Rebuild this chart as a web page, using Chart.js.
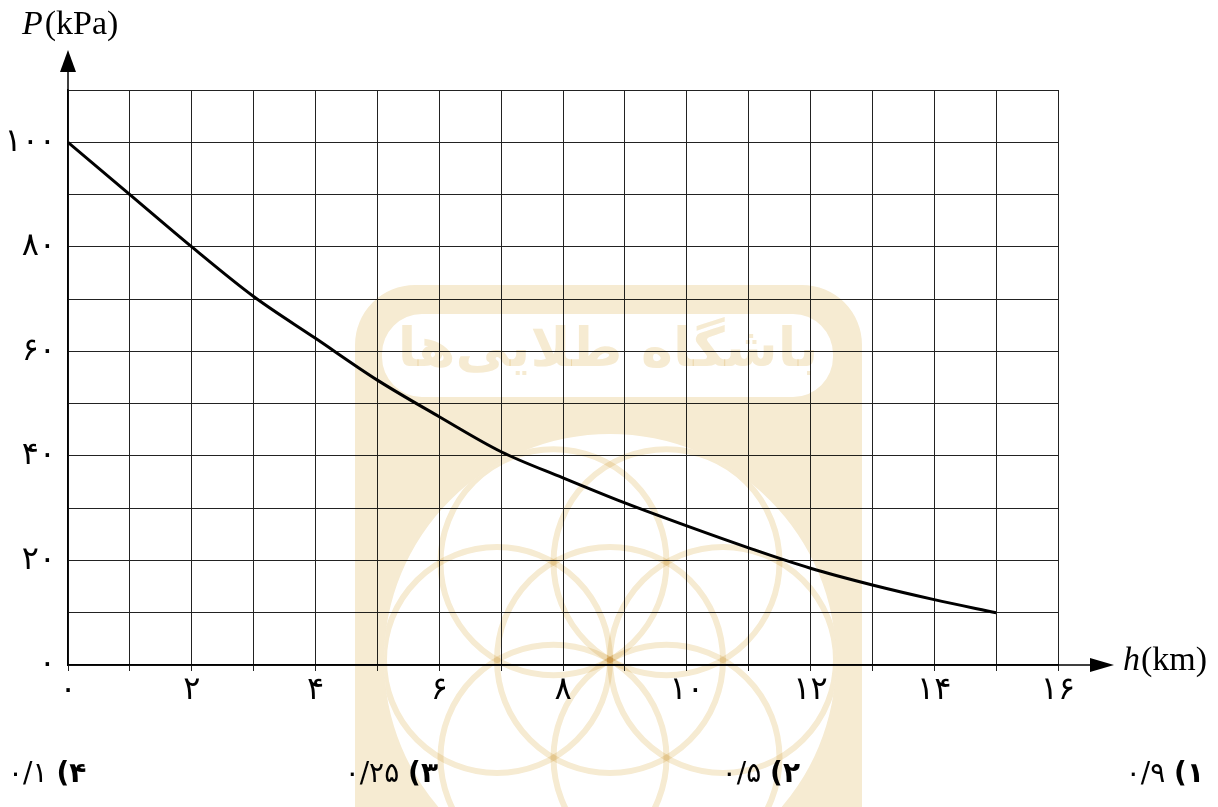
<!DOCTYPE html>
<html>
<head>
<meta charset="utf-8">
<script src="https://cdn.jsdelivr.net/npm/chart.js@4"></script>
<style>
  body { margin: 0; background: #fff; }
  #wrap { position: relative; width: 1218px; height: 807px; }
  .choice {
    position: absolute; top: 756px; direction: rtl; white-space: nowrap;
    font-family: "DejaVu Sans", sans-serif; font-size: 28px; color: #000;
  }
</style>
</head>
<body>
<div id="wrap">
  <canvas id="fesharHava" width="1218" height="807"></canvas>
  <div class="choice" style="right:14px"><b>۱)</b> ۰/۹</div>
  <div class="choice" style="right:418px"><b>۲)</b> ۰/۵</div>
  <div class="choice" style="right:780px"><b>۳)</b> ۰/۲۵</div>
  <div class="choice" style="left:8px"><b>۴)</b> ۰/۱</div>
</div>
<script>
const fesharHava = document.getElementById('fesharHava');

// ارتفاع (km) و فشار (kPa)
const ertefa = [0, 1, 2, 3, 4, 5, 6, 7, 8, 9, 10, 11, 12, 13, 14, 15];
const feshar = [100, 90, 80, 70.5, 62.5, 54.5, 47.5, 40.8, 35.8, 31, 26.6, 22.4, 18.5, 15.3, 12.5, 10];
const arghamFarsi = ['۰', '۱', '۲', '۳', '۴', '۵', '۶', '۷', '۸', '۹'];

const farsi = n => String(n).split('').map(d => arghamFarsi[+d]).join('');
const rangeWatermark = 'rgb(246, 235, 210)';

// فلش محورها، عنوان محورها و واترمارک
const tarh = {
    id: 'tarh',
    afterDraw(chart) {
        const c = chart.ctx;
        const a = chart.chartArea;
        c.save();
        c.fillStyle = '#000';
        c.strokeStyle = '#000';
        c.lineWidth = 1.5;

        c.beginPath();
        c.moveTo(a.left, a.top);
        c.lineTo(a.left, 70);
        c.moveTo(a.right, a.bottom);
        c.lineTo(1092, a.bottom);
        c.stroke();

        c.beginPath();
        c.moveTo(a.left, 50);
        c.lineTo(a.left - 8, 72);
        c.lineTo(a.left + 8, 72);
        c.closePath();
        c.fill();

        c.beginPath();
        c.moveTo(1114, a.bottom);
        c.lineTo(1090, a.bottom - 7);
        c.lineTo(1090, a.bottom + 7);
        c.closePath();
        c.fill();

        c.textBaseline = 'middle';
        c.textAlign = 'left';
        c.font = 'italic 34px "Liberation Serif"';
        c.fillText('P', 22, 25);
        let w = c.measureText('P').width;
        c.font = '34px "Liberation Serif"';
        c.fillText('(kPa)', 22 + w + 2, 25);

        c.font = 'italic 34px "Liberation Serif"';
        c.fillText('h', 1123, 661);
        w = c.measureText('h').width;
        c.font = '34px "Liberation Serif"';
        c.fillText('(km)', 1123 + w + 1, 661);
        c.restore();

        // واترمارک
        c.save();
        c.globalCompositeOperation = 'multiply';
        c.fillStyle = rangeWatermark;
        c.beginPath();
        c.roundRect(355, 285, 507, 620, 60);
        c.roundRect(382, 314, 451, 83, 40);
        c.moveTo(610 + 226, 660);
        c.arc(610, 660, 226, 0, Math.PI * 2);
        c.fill('evenodd');

        c.font = 'bold 54px "DejaVu Sans"';
        c.textAlign = 'center';
        c.textBaseline = 'middle';
        c.direction = 'rtl';
        c.fillText('باشگاه طلایی‌ها', 608, 352);

        c.beginPath();
        c.arc(610, 660, 226, 0, Math.PI * 2);
        c.clip();
        c.strokeStyle = rangeWatermark;
        c.lineWidth = 6;
        const r = 113;
        c.beginPath();
        c.arc(610, 660, r, 0, Math.PI * 2);
        c.stroke();
        for (let k = 0; k < 6; k++) {
            const t = k * Math.PI / 3;
            c.beginPath();
            c.arc(610 + r * Math.cos(t), 660 + r * Math.sin(t), r, 0, Math.PI * 2);
            c.stroke();
        }
        c.restore();
    }
};

new Chart(fesharHava, {
    type: 'line',
    data: {
        datasets: [{
            data: ertefa.map((h, i) => ({ x: h, y: feshar[i] })),
            borderColor: '#000',
            borderWidth: 3,
            pointRadius: 0,
            fill: false,
            cubicInterpolationMode: 'monotone'
        }]
    },
    options: {
        responsive: false,
        animation: false,
        layout: { padding: { top: 90, right: 160, left: 0, bottom: 0 } },
        plugins: { legend: { display: false }, tooltip: { enabled: false } },
        scales: {
            x: {
                type: 'linear',
                min: 0,
                max: 16,
                afterFit: s => { s.height = 142; },
                grid: { color: '#222', lineWidth: 1, tickLength: 6, tickColor: '#222' },
                border: { color: '#000', width: 1.5 },
                ticks: {
                    stepSize: 1,
                    autoSkip: false,
                    maxRotation: 0,
                    padding: 0,
                    color: '#000',
                    font: { family: 'DejaVu Sans', size: 32 },
                    callback: v => v % 2 === 0 ? farsi(v) : ''
                }
            },
            y: {
                min: 0,
                max: 110,
                afterFit: s => { s.width = 68; },
                grid: { color: '#222', lineWidth: 1, drawTicks: false },
                border: { color: '#000', width: 1.5 },
                ticks: {
                    stepSize: 10,
                    padding: 12,
                    color: '#000',
                    font: { family: 'DejaVu Sans', size: 32 },
                    callback: v => v % 20 === 0 && v <= 100 ? farsi(v) : ''
                }
            }
        }
    },
    plugins: [tarh]
});
</script>
</body>
</html>
